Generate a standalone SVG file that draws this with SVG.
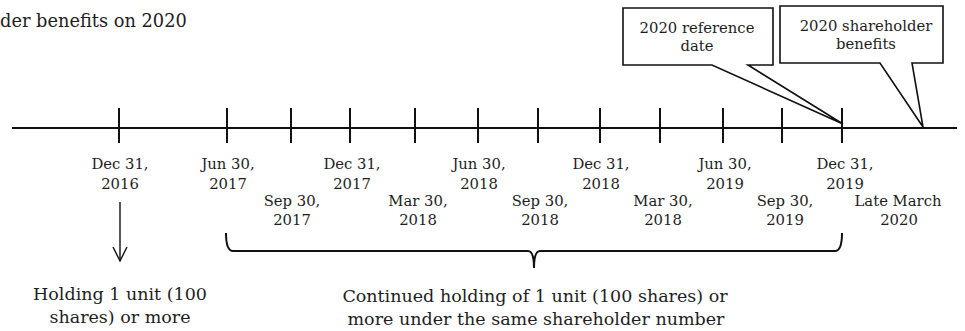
<svg xmlns="http://www.w3.org/2000/svg" width="965" height="331" viewBox="0 0 965 331">
<style>
text{font-family:"DejaVu Serif","Liberation Serif",serif;font-size:14.8px;fill:#1e1e1e;text-anchor:middle}
.big{font-size:17.5px}
.ln{stroke:#111;stroke-width:2;fill:none}
.thin{stroke:#111;stroke-width:1.4;fill:none}
.call{stroke:#111;stroke-width:1.6;fill:#fff}
</style>
<rect width="965" height="331" fill="#fff"/>
<text x="0" y="27" style="text-anchor:start;font-size:17.8px">der benefits on 2020</text>
<g id="timeline">
<line class="ln" x1="12" y1="128" x2="957" y2="128"/>
<g class="ln">
<line x1="119" y1="108" x2="119" y2="143"/>
<line x1="227" y1="108" x2="227" y2="143"/>
<line x1="291" y1="108" x2="291" y2="143"/>
<line x1="350" y1="108" x2="350" y2="143"/>
<line x1="415" y1="108" x2="415" y2="143"/>
<line x1="478" y1="108" x2="478" y2="143"/>
<line x1="538" y1="108" x2="538" y2="143"/>
<line x1="600" y1="108" x2="600" y2="143"/>
<line x1="660" y1="108" x2="660" y2="143"/>
<line x1="723" y1="108" x2="723" y2="143"/>
<line x1="782" y1="108" x2="782" y2="143"/>
<line x1="842" y1="108" x2="842" y2="143"/>
</g>
</g>
<g id="labels">
<text x="120" y="169">Dec 31,</text><text x="120" y="189">2016</text>
<text x="228" y="169">Jun 30,</text><text x="228" y="189">2017</text>
<text x="352" y="169">Dec 31,</text><text x="352" y="189">2017</text>
<text x="479" y="169">Jun 30,</text><text x="479" y="189">2018</text>
<text x="601" y="169">Dec 31,</text><text x="601" y="189">2018</text>
<text x="725" y="169">Jun 30,</text><text x="725" y="189">2019</text>
<text x="845" y="169">Dec 31,</text><text x="845" y="189">2019</text>
<text x="292" y="206">Sep 30,</text><text x="292" y="225">2017</text>
<text x="418" y="206">Mar 30,</text><text x="418" y="225">2018</text>
<text x="540" y="206">Sep 30,</text><text x="540" y="225">2018</text>
<text x="663" y="206">Mar 30,</text><text x="663" y="225">2018</text>
<text x="785" y="206">Sep 30,</text><text x="785" y="225">2019</text>
<text x="898" y="206">Late March</text><text x="899" y="225">2020</text>
</g>
<g id="callout-reference-date">
<path class="call" d="M623,8 H773 V65 H748 L843,124 L712,65 H623 Z"/>
<text x="697" y="33">2020 reference</text>
<text x="697" y="51">date</text>
</g>
<g id="callout-benefits">
<path class="call" d="M780,6 H943 V63 H912 L923,127 L880,63 H780 Z"/>
<text x="866" y="31">2020 shareholder</text>
<text x="866" y="49">benefits</text>
</g>
<g id="connectors">
<line class="thin" x1="120" y1="202" x2="120" y2="261"/>
<path class="thin" d="M113,247 L120,261 L127,247"/>
<path class="ln" d="M226,233 Q226,251 233,251 H528 Q534,251 534,268 Q534,251 540,251 H835 Q842,251 842,233"/>
</g>
<g id="holding-1">
<text class="big" x="120" y="300">Holding 1 unit (100</text>
<text class="big" x="120" y="323">shares) or more</text>
</g>
<g id="holding-continued">
<text class="big" x="535" y="302">Continued holding of 1 unit (100 shares) or</text>
<text class="big" x="536" y="325">more under the same shareholder number</text>
</g>
</svg>
